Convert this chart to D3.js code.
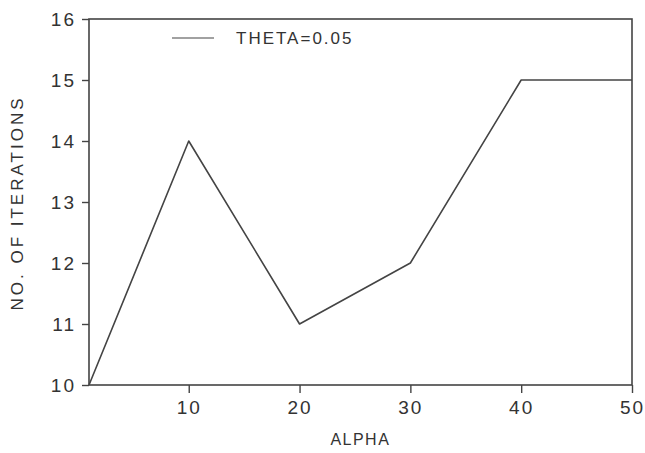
<!DOCTYPE html>
<html>
<head>
<script src="https://d3js.org/d3.v7.min.js"></script>
<style>
  body { margin: 0; background: #fff; }
  text { font-family: "Liberation Sans", Arial, sans-serif; fill: #333; }
</style>
</head>
<body>
<script>
var alpha = [1, 10, 20, 30, 40, 50];
var iterations = [10, 14, 11, 12, 15, 15];
var xTicks = [10, 20, 30, 40, 50];
var yTicks = [10, 11, 12, 13, 14, 15, 16];
var seriesName = "THETA=0.05";

var margin = {top: 19, right: 13, bottom: 68, left: 89},
    width = 645 - margin.left - margin.right,
    height = 453 - margin.top - margin.bottom;

var svg = d3.select("body").append("svg")
    .attr("width", 645)
    .attr("height", 453)
  .append("g")
    .attr("transform", "translate(" + margin.left + "," + margin.top + ")");

var x = d3.scaleLinear().domain([1, 50]).range([0, width]);
var y = d3.scaleLinear().domain([10, 16]).range([height, 0]);

var ink = "#444";

// frame
svg.append("rect")
    .attr("width", width)
    .attr("height", height)
    .attr("fill", "none")
    .attr("stroke", ink)
    .attr("stroke-width", 1.6);

var xAxis = svg.append("g")
    .attr("transform", "translate(0," + height + ")")
    .call(d3.axisBottom(x).tickValues(xTicks).tickSize(8).tickPadding(8).tickFormat(d3.format("d")));

var yAxis = svg.append("g")
    .call(d3.axisLeft(y).tickValues(yTicks).tickSize(7).tickPadding(6).tickFormat(d3.format("d")));

[xAxis, yAxis].forEach(function(g) {
  g.select(".domain").remove();
  g.selectAll(".tick line").attr("stroke", ink).attr("stroke-width", 1.4);
  g.selectAll(".tick text")
    .style("font-size", "19px")
    .style("letter-spacing", "2px")
    .attr("fill", "#333");
});
yAxis.selectAll(".tick text").attr("dy", "0.35em");

var line = d3.line()
    .x(function(d, i) { return x(alpha[i]); })
    .y(function(d) { return y(d); });

svg.append("path")
    .datum(iterations)
    .attr("fill", "none")
    .attr("stroke", ink)
    .attr("stroke-width", 1.6)
    .attr("stroke-linejoin", "round")
    .attr("d", line);

// legend
var lg = svg.append("g").attr("transform", "translate(83,19)");
lg.append("line")
    .attr("x1", 0).attr("x2", 42)
    .attr("y1", 0).attr("y2", 0)
    .attr("stroke", ink)
    .attr("stroke-width", 1.2);
lg.append("text")
    .attr("x", 64)
    .attr("y", 6)
    .style("font-size", "17px")
    .style("letter-spacing", "2px")
    .text(seriesName);

// axis titles
svg.append("text")
    .attr("x", x(30) - 50)
    .attr("y", height + 60)
    .attr("text-anchor", "middle")
    .style("font-size", "16px")
    .style("letter-spacing", "1.5px")
    .text("ALPHA");

svg.append("text")
    .attr("transform", "translate(" + (-66) + "," + (height / 2 + 1) + ") rotate(-90)")
    .attr("text-anchor", "middle")
    .style("font-size", "17px")
    .style("letter-spacing", "3px")
    .text("NO. OF ITERATIONS");
</script>
</body>
</html>
